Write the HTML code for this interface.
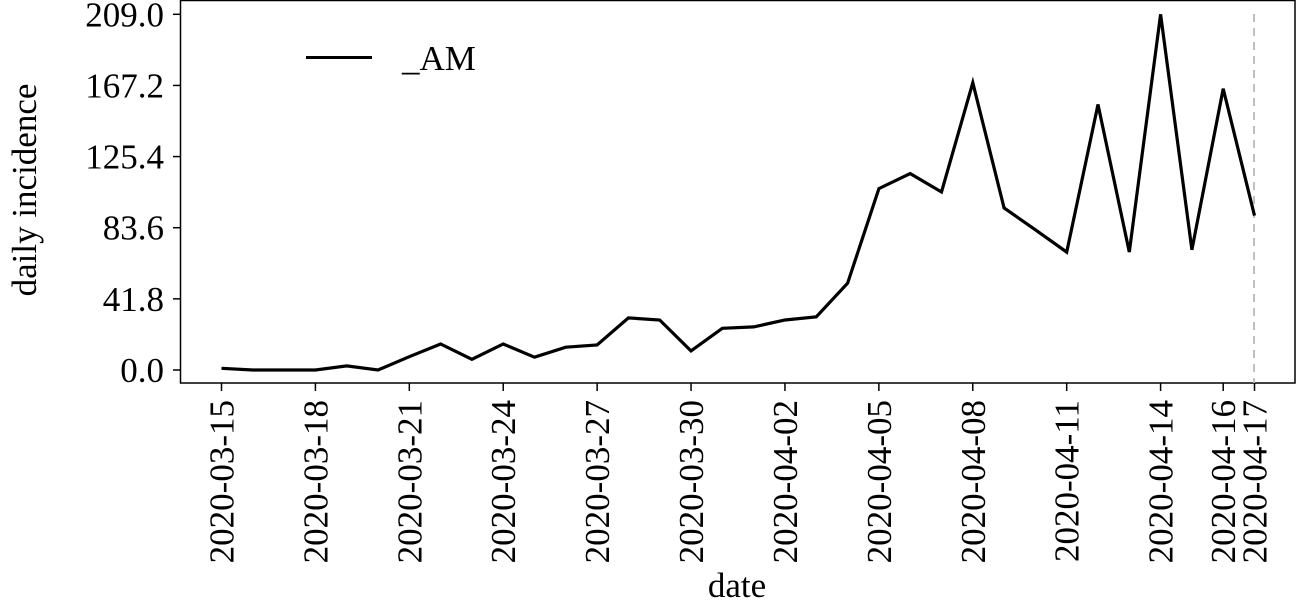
<!DOCTYPE html>
<html><head><meta charset="utf-8"><style>
html,body{margin:0;padding:0;background:#fff;}
svg text{font-family:"Liberation Serif",serif;fill:#000;}
</style></head><body>
<svg id="chart" width="1296" height="600" xmlns="http://www.w3.org/2000/svg">
<rect x="180.5" y="0.5" width="1114.5" height="382.5" fill="none" stroke="#000" stroke-width="1.5"/>
<g id="yaxis"></g>
<g id="xaxis"></g>
<line x1="1254" x2="1254" y1="14" y2="383" stroke="#c0c0c0" stroke-width="2" stroke-dasharray="8,6"/>
<path id="series" fill="none" stroke="#000" stroke-width="3.2" stroke-linejoin="miter"/>
<g>
<line x1="306" x2="372" y1="57.5" y2="57.5" stroke="#000" stroke-width="3"/>
<text x="402" y="70" font-size="35">_AM</text>
</g>
<text transform="translate(36,190) rotate(-90)" text-anchor="middle" font-size="35">daily incidence</text>
<text x="737" y="597" text-anchor="middle" font-size="35">date</text>
</svg>
<script>
const dayValues = [1,0,0,0,2.4,0,7.8,15.3,6.3,15.3,7.5,13.4,14.7,30.6,29.4,11.2,24.5,25.3,29.4,31.2,51,106.6,115.4,104.6,168.8,95.2,82.4,69.3,156,69.3,209,70.6,165.3,90.7];
const yTicks = [0,41.8,83.6,125.4,167.2,209.0];
const xTickDays = [0,3,6,9,12,15,18,21,24,27,30,32,33];
const xTickLabels = ["2020-03-15","2020-03-18","2020-03-21","2020-03-24","2020-03-27","2020-03-30","2020-04-02","2020-04-05","2020-04-08","2020-04-11","2020-04-14","2020-04-16","2020-04-17"];

const NS="http://www.w3.org/2000/svg";
function xs(d){return 221.5+d*(1254.5-221.5)/33;}
function ys(v){return 370-v*(370-14.3)/209;}
const yg=document.getElementById('yaxis'), xg=document.getElementById('xaxis');
yTicks.forEach(v=>{
  const y=ys(v);
  const l=document.createElementNS(NS,'line');
  l.setAttribute('x1',173);l.setAttribute('x2',180);l.setAttribute('y1',y);l.setAttribute('y2',y);
  l.setAttribute('stroke','#000');l.setAttribute('stroke-width','1.5');
  
  
  yg.appendChild(l);
  const t=document.createElementNS(NS,'text');
  t.setAttribute('x',164);t.setAttribute('y',y+12);t.setAttribute('text-anchor','end');t.setAttribute('font-size','35');
  t.textContent=v.toFixed(1);
  
  
  yg.appendChild(t);
});
xTickDays.forEach((d,i)=>{
  const x=xs(d);
  const l=document.createElementNS(NS,'line');
  l.setAttribute('x1',x);l.setAttribute('x2',x);l.setAttribute('y1',383);l.setAttribute('y2',391);
  l.setAttribute('stroke','#000');l.setAttribute('stroke-width','1.5');
  
  
  xg.appendChild(l);
  const t=document.createElementNS(NS,'text');
  t.setAttribute('transform','translate('+(x+12)+',400) rotate(-90)');
  t.setAttribute('text-anchor','end');t.setAttribute('font-size','35');
  t.textContent=xTickLabels[i];
  
  
  xg.appendChild(t);
});
document.getElementById('series').setAttribute('d',dayValues.map((v,i)=>(i?'L':'M')+xs(i).toFixed(1)+','+ys(v).toFixed(1)).join(' '));
</script>
</body></html>
